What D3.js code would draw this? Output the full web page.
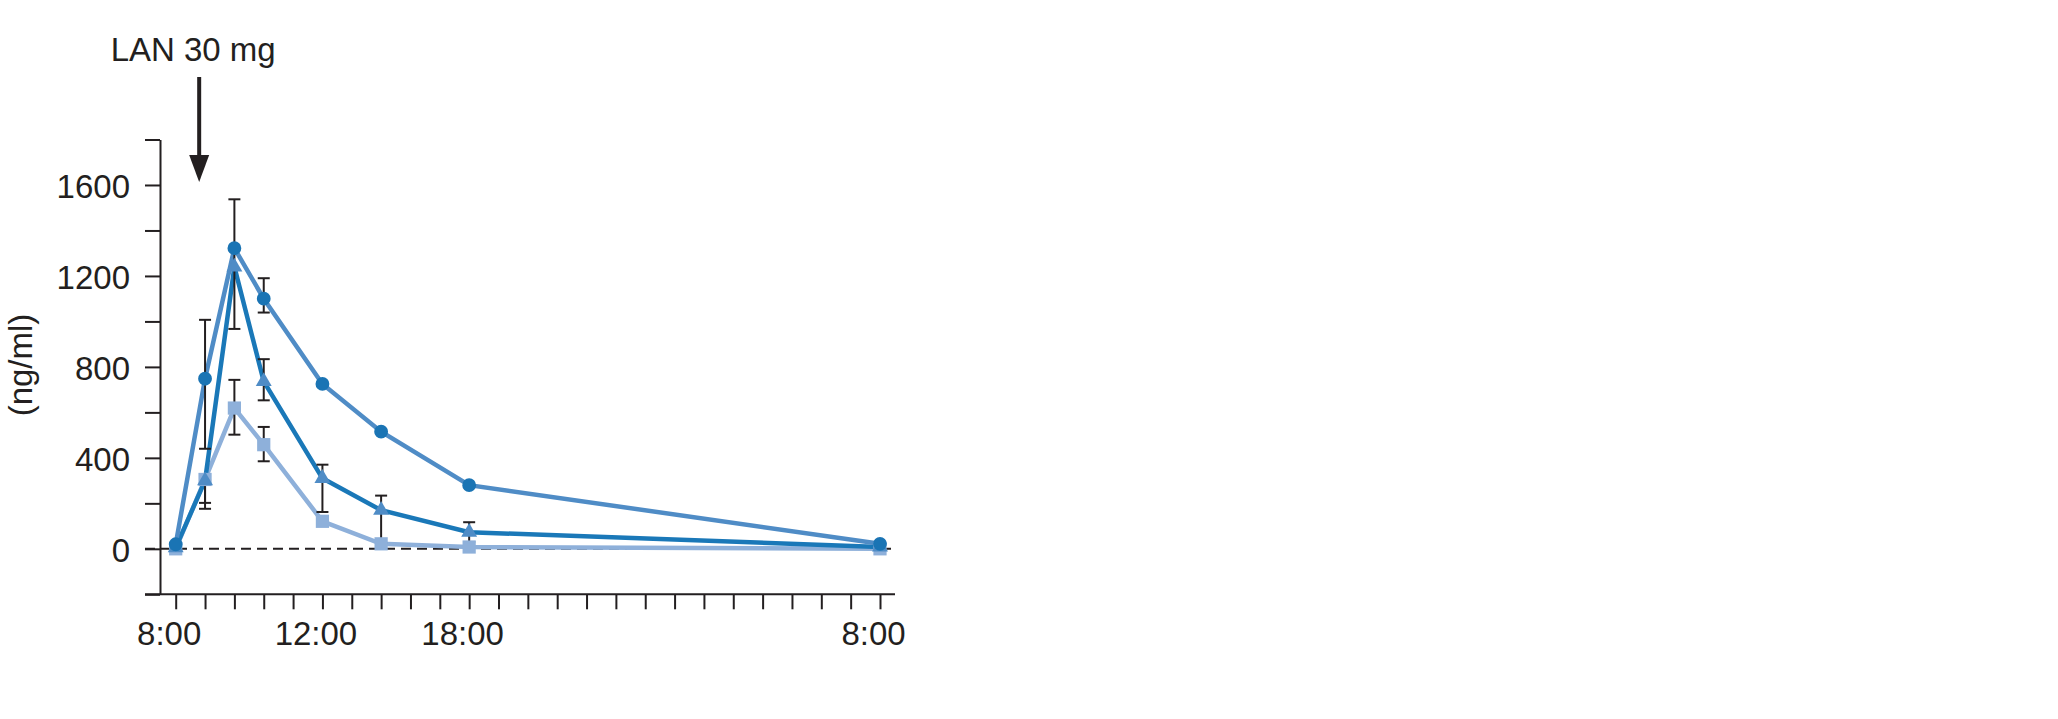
<!DOCTYPE html>
<html>
<head>
<meta charset="utf-8">
<script src="https://cdn.jsdelivr.net/npm/d3@7"></script>
<style>
  body { margin: 0; background: #fff; }
  svg { display: block; }
  text { font-family: "Liberation Sans", Arial, sans-serif; fill: #231f20; }
</style>
</head>
<body>
<svg></svg>
<script>
// hours after 8:00 on the axis (one tick per hour)
var hours = [0, 1, 2, 3, 5, 7, 10, 24];

var circleVals   = [20, 748, 1322, 1100, 725, 515, 280, 22];
var triangleVals = [5, 300, 1240, 736, 310, 170, 73, 8];
var squareVals   = [0, 305, 619, 458, 121, 22, 8, 0];

// error bars: [hour, low, high]
var circleErr   = [[1, 440, 1007], [3, 1039, 1190]];
var triangleErr = [[1, 176, 300], [2, 967, 1537], [3, 653, 834], [5, 162, 370], [7, 26, 234], [10, 30, 117]];
var squareErr   = [[1, 202, 305], [2, 502, 743], [3, 385, 536]];

var yTicks = [-200, 0, 200, 400, 600, 800, 1000, 1200, 1400, 1600, 1800];
var yLabels = [0, 400, 800, 1200, 1600];
var xTicks = d3.range(0, 25);
var xLabels = {0: "8:00", 5: "12:00", 10: "18:00", 24: "8:00"};
var doseHour = 0.8;

start();

function start(){
  var width = 2058, height = 719;
  var svg = d3.select("svg").attr("width", width).attr("height", height);

  var x = d3.scaleLinear().domain([0, 24]).range([175.7, 880]);
  var y = d3.scaleLinear().domain([-200, 1800]).range([594.3, 139.5]);
  var axisX = 160;
  var ink = "#231f20";
  var fs = 33;

  // y axis
  var yAxis = svg.append("g")
     .attr("transform", "translate(" + axisX + ",0)")
     .call(d3.axisLeft(y)
             .tickValues(yTicks)
             .tickSize(15)
             .tickSizeOuter(0)
             .tickPadding(15)
             .tickFormat(function(d){ return yLabels.indexOf(d) >= 0 ? d : ""; }));
  yAxis.selectAll("path, line").attr("stroke", ink).attr("stroke-width", 2);
  yAxis.selectAll("text").attr("font-size", fs).attr("dy", "0.37em")
       .attr("font-family", "Liberation Sans, Arial, sans-serif").attr("fill", ink);

  // x axis
  var xAxis = svg.append("g")
     .attr("transform", "translate(0," + y(-200) + ")")
     .call(d3.axisBottom(x)
             .tickValues(xTicks)
             .tickSize(15)
             .tickSizeOuter(0)
             .tickPadding(12)
             .tickFormat(function(d){ return xLabels[d] || ""; }));
  xAxis.select(".domain").remove();
  xAxis.append("line")
       .attr("x1", axisX - 15).attr("x2", x(24) + 15)
       .attr("stroke", ink).attr("stroke-width", 2);
  xAxis.selectAll("line").attr("stroke", ink).attr("stroke-width", 2);
  xAxis.selectAll("text").attr("font-size", fs).attr("dx", -7)
       .attr("font-family", "Liberation Sans, Arial, sans-serif").attr("fill", ink);

  // zero line
  svg.append("line")
     .attr("x1", axisX - 15).attr("x2", x(24) + 15)
     .attr("y1", y(0)).attr("y2", y(0))
     .attr("stroke", ink).attr("stroke-width", 2)
     .attr("stroke-dasharray", "10,6");

  // y label
  svg.append("text")
     .attr("transform", "translate(32,365) rotate(-90)")
     .attr("text-anchor", "middle")
     .attr("font-size", fs)
     .text("(ng/ml)");

  // dose annotation
  svg.append("text")
     .attr("x", x(doseHour) - 6).attr("y", 61)
     .attr("text-anchor", "middle")
     .attr("font-size", fs)
     .text("LAN 30 mg");
  svg.append("line")
     .attr("x1", x(doseHour)).attr("x2", x(doseHour))
     .attr("y1", 77).attr("y2", 160)
     .attr("stroke", ink).attr("stroke-width", 4);
  svg.append("path")
     .attr("d", "M" + (x(doseHour) - 10) + ",155L" + (x(doseHour) + 10) + ",155L" + x(doseHour) + ",182Z")
     .attr("fill", ink);

  var series = [
    {vals: squareVals,   err: squareErr,   line: "#8eb0da", fill: "#8eb0da", sym: d3.symbolSquare,   size: 175},
    {vals: triangleVals, err: triangleErr, line: "#1a78b8", fill: "#4f8cc6", sym: d3.symbolTriangle, size: 110},
    {vals: circleVals,   err: circleErr,   line: "#4f8cc6", fill: "#1a74b4", sym: d3.symbolCircle,   size: 150}
  ];

  var line = d3.line()
               .x(function(d, i){ return x(hours[i]); })
               .y(function(d){ return y(d); });

  series.forEach(function(s){
    svg.append("path")
       .datum(s.vals)
       .attr("d", line)
       .attr("fill", "none")
       .attr("stroke", s.line)
       .attr("stroke-width", 4.5)
       .attr("stroke-linejoin", "miter");
  });

  // error bars
  series.forEach(function(s){
    var g = svg.append("g").attr("stroke", ink).attr("stroke-width", 2);
    g.selectAll(".bar").data(s.err).enter().append("line")
     .attr("x1", function(d){ return x(d[0]); })
     .attr("x2", function(d){ return x(d[0]); })
     .attr("y1", function(d){ return y(d[1]); })
     .attr("y2", function(d){ return y(d[2]); });
    [1, 2].forEach(function(k){
      g.selectAll(".cap" + k).data(s.err).enter().append("line")
       .attr("x1", function(d){ return x(d[0]) - 6; })
       .attr("x2", function(d){ return x(d[0]) + 6; })
       .attr("y1", function(d){ return y(d[k]); })
       .attr("y2", function(d){ return y(d[k]); });
    });
  });

  // markers
  series.forEach(function(s){
    svg.append("g").selectAll("path")
       .data(s.vals).enter().append("path")
       .attr("d", d3.symbol().type(s.sym).size(s.size))
       .attr("transform", function(d, i){ return "translate(" + x(hours[i]) + "," + y(d) + ")"; })
       .attr("fill", s.fill);
  });
}
</script>
</body>
</html>
